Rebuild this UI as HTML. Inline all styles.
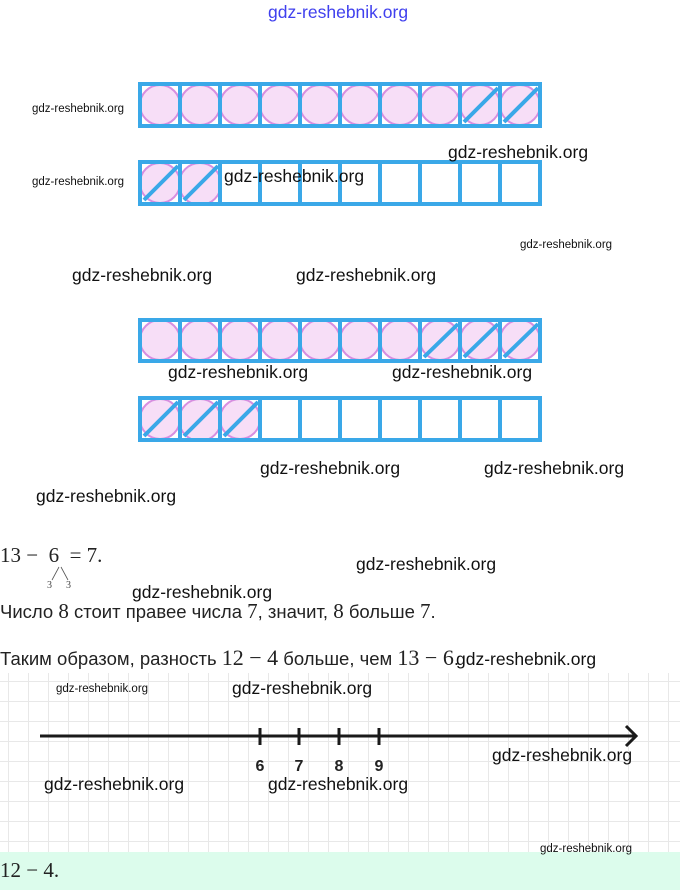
<!DOCTYPE html>
<html><head><meta charset="utf-8"><style>
body{margin:0;width:680px;height:890px;background:#fff;position:relative;overflow:hidden;font-family:"Liberation Sans",sans-serif}
.w{position:absolute;color:#111;font-family:"Liberation Sans",sans-serif;white-space:nowrap}
.b{font-size:17.5px}.s{font-size:11.5px}
.m{font-family:"Liberation Serif",serif}
.t{position:absolute;white-space:nowrap;font-size:18.5px;color:#222}
</style></head><body>
<div style="position:absolute;left:0;top:673px;width:680px;height:180px;background-color:#fff;background-image:linear-gradient(#e8e8e8 1px,transparent 1px),linear-gradient(90deg,#e8e8e8 1px,transparent 1px);background-size:20px 20px;background-position:8px 8px"></div>
<div style="position:absolute;left:0;top:852px;width:680px;height:38px;background:#dcfcec"></div>
<svg width="680" height="890" style="position:absolute;left:0;top:0">
<g fill="#f7def7" stroke="#d78ee0" stroke-width="2">
<circle cx="160" cy="105" r="20"/><circle cx="200" cy="105" r="20"/><circle cx="240" cy="105" r="20"/><circle cx="280" cy="105" r="20"/><circle cx="320" cy="105" r="20"/><circle cx="360" cy="105" r="20"/><circle cx="400" cy="105" r="20"/><circle cx="440" cy="105" r="20"/><circle cx="480" cy="105" r="20"/><circle cx="520" cy="105" r="20"/>
<circle cx="160" cy="183" r="20"/><circle cx="200" cy="184" r="21"/>
<circle cx="160" cy="340" r="20"/><circle cx="200" cy="340" r="20"/><circle cx="240" cy="340" r="20"/><circle cx="280" cy="340" r="20"/><circle cx="320" cy="340" r="20"/><circle cx="360" cy="340" r="20"/><circle cx="400" cy="340" r="20"/><circle cx="440" cy="340" r="20"/><circle cx="480" cy="340" r="20"/><circle cx="520" cy="340" r="20"/>
<circle cx="160" cy="419" r="20"/><circle cx="200" cy="420" r="21"/><circle cx="240" cy="419" r="20"/>
</g>
<g fill="none" stroke="#3aa8e8" stroke-width="4">
<rect x="140" y="84" width="400" height="42"/>
<path d="M180 84V126M220 84V126M260 84V126M300 84V126M340 84V126M380 84V126M420 84V126M460 84V126M500 84V126"/>
<path d="M464 122L498 88M504 122L538 88"/>
<rect x="140" y="162" width="400" height="42"/>
<path d="M180 162V204M220 162V204M260 162V204M300 162V204M340 162V204M380 162V204M420 162V204M460 162V204M500 162V204"/>
<path d="M144 200L178 166M184 200L218 166"/>
<rect x="140" y="320" width="400" height="41"/>
<path d="M180 320V361M220 320V361M260 320V361M300 320V361M340 320V361M380 320V361M420 320V361M460 320V361M500 320V361"/>
<path d="M424 357L458 324M464 357L498 324M504 357L538 324"/>
<rect x="140" y="398" width="400" height="42"/>
<path d="M180 398V440M220 398V440M260 398V440M300 398V440M340 398V440M380 398V440M420 398V440M460 398V440M500 398V440"/>
<path d="M144 436L178 402M184 436L218 402M224 436L258 402"/>
</g>
<g stroke="#1a1a1a" stroke-width="3" fill="none">
<path d="M40 736H636M626 726L636 736L626 746"/>
<path d="M260 728V745M299 728V745M339 728V745M379 728V745"/>
</g>
<g font-family="Liberation Sans" font-weight="bold" font-size="16" fill="#222" text-anchor="middle">
<text x="260" y="771">6</text><text x="299" y="771">7</text><text x="339" y="771">8</text><text x="379" y="771">9</text>
</g>
<path d="M59 567L52 580M61 567L68 580" stroke="#555" stroke-width="0.8"/>
</svg>
<div class="w" style="left:268px;top:2px;font-size:17.5px;color:#4040ee">gdz-reshebnik.org</div>
<div class="w s" style="left:32px;top:103px">gdz-reshebnik.org</div>
<div class="w s" style="left:32px;top:176px">gdz-reshebnik.org</div>
<div class="w b" style="left:448px;top:142px">gdz-reshebnik.org</div>
<div class="w b" style="left:224px;top:166px">gdz-reshebnik.org</div>
<div class="w s" style="left:520px;top:239px">gdz-reshebnik.org</div>
<div class="w b" style="left:72px;top:265px">gdz-reshebnik.org</div>
<div class="w b" style="left:296px;top:265px">gdz-reshebnik.org</div>
<div class="w b" style="left:168px;top:362px">gdz-reshebnik.org</div>
<div class="w b" style="left:392px;top:362px">gdz-reshebnik.org</div>
<div class="w b" style="left:260px;top:458px">gdz-reshebnik.org</div>
<div class="w b" style="left:484px;top:458px">gdz-reshebnik.org</div>
<div class="w b" style="left:36px;top:486px">gdz-reshebnik.org</div>
<div class="t m" style="left:0;top:543px;font-size:21px">13 − &nbsp;6 &nbsp;= 7.</div>
<div class="m" style="position:absolute;left:47px;top:580px;font-size:10px;color:#444">3</div>
<div class="m" style="position:absolute;left:66px;top:580px;font-size:10px;color:#444">3</div>
<div class="w b" style="left:356px;top:554px">gdz-reshebnik.org</div>
<div class="w b" style="left:132px;top:582px">gdz-reshebnik.org</div>
<div class="t" style="left:0;top:599px">Число <span class="m" style="font-size:21px">8</span> стоит правее числа <span class="m" style="font-size:21px">7</span>, значит, <span class="m" style="font-size:21px">8</span> больше <span class="m" style="font-size:21px">7</span>.</div>
<div class="t" style="left:0;top:645px">Таким образом, разность <span class="m" style="font-size:22px">12 − 4</span> больше, чем <span class="m" style="font-size:22px">13 − 6</span>.</div>
<div class="w b" style="left:456px;top:649px">gdz-reshebnik.org</div>
<div class="w s" style="left:56px;top:683px">gdz-reshebnik.org</div>
<div class="w b" style="left:232px;top:678px">gdz-reshebnik.org</div>
<div class="w b" style="left:492px;top:745px">gdz-reshebnik.org</div>
<div class="w b" style="left:44px;top:774px">gdz-reshebnik.org</div>
<div class="w b" style="left:268px;top:774px">gdz-reshebnik.org</div>
<div class="w s" style="left:540px;top:843px">gdz-reshebnik.org</div>
<div class="t m" style="left:0;top:858px;font-size:21px">12 − 4.</div>
</body></html>
